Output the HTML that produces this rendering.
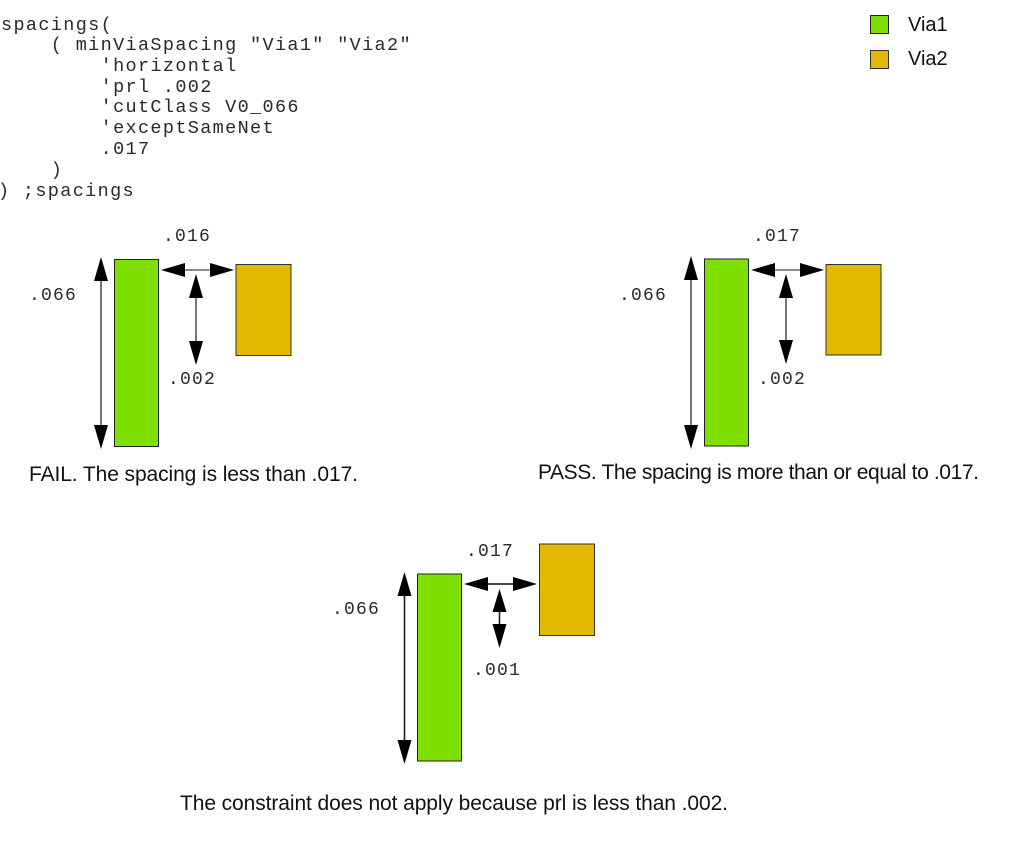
<!DOCTYPE html>
<html lang="en">
<head>
<meta charset="utf-8">
<title>spacings diagram</title>
<style>
html,body{margin:0;padding:0;background:#fff;width:1013px;height:858px;overflow:hidden}
svg{display:block}
.m{font-family:"Liberation Mono",monospace;font-size:18px;fill:#2a2a2a;letter-spacing:1.2px;white-space:pre}
.c{font-family:"Liberation Mono",monospace;font-size:18.5px;fill:#2a2a2a;letter-spacing:1.35px;white-space:pre}
.s{font-family:"Liberation Sans",sans-serif;font-size:21px;fill:#111}
.v{font-family:"Liberation Sans",sans-serif;font-size:20px;fill:#111}
.g{fill:#7fe000;stroke:#222;stroke-width:1}
.y{fill:#e2b900;stroke:#333;stroke-width:1}
.h{fill:#000}
</style>
</head>
<body>
<svg width="1013" height="858" viewBox="0 0 1013 858" xmlns="http://www.w3.org/2000/svg">
<rect width="1013" height="858" fill="#fff"/>

<text class="c" x="1" y="30">spacings(</text>
<text class="c" x="1" y="50">    ( minViaSpacing "Via1" "Via2"</text>
<text class="c" x="1" y="71">        'horizontal</text>
<text class="c" x="1" y="92">        'prl .002</text>
<text class="c" x="1" y="112">        'cutClass V0_066</text>
<text class="c" x="1" y="133">        'exceptSameNet</text>
<text class="c" x="1" y="154">        .017</text>
<text class="c" x="1" y="175">    )</text>
<text class="c" x="-2" y="196">) ;spacings</text>

<rect class="g" x="870.5" y="15.5" width="18" height="18"/>
<rect class="y" x="870.5" y="50.5" width="18" height="18"/>
<text class="v" x="908" y="31">Via1</text>
<text class="v" x="908" y="65">Via2</text>

<!-- FAIL -->
<rect class="g" x="114.5" y="259.5" width="44" height="187"/>
<rect class="y" x="236" y="264.5" width="55" height="91"/>
<line x1="101" y1="270" x2="101" y2="436" stroke="#777" stroke-width="2"/>
<polygon class="h" points="101,257 94,281 108,281"/>
<polygon class="h" points="101,449 94,425 108,425"/>
<line x1="180" y1="270" x2="215" y2="270" stroke="#666" stroke-width="1.6"/>
<polygon class="h" points="161,270 185,263 185,277"/>
<polygon class="h" points="234,270 210,263 210,277"/>
<line x1="196" y1="290" x2="196" y2="345" stroke="#777" stroke-width="2"/>
<polygon class="h" points="196,274 189,298 203,298"/>
<polygon class="h" points="196,365 189,341 203,341"/>
<text class="m" x="163" y="241">.016</text>
<text class="m" x="29" y="300">.066</text>
<text class="m" x="168" y="384">.002</text>
<text class="s" x="29" y="481" textLength="329" lengthAdjust="spacing">FAIL. The spacing is less than .017.</text>

<!-- PASS -->
<rect class="g" x="704.5" y="259" width="44" height="187"/>
<rect class="y" x="826" y="264.5" width="55" height="90.5"/>
<line x1="691" y1="270" x2="691" y2="436" stroke="#777" stroke-width="2"/>
<polygon class="h" points="691,256 684,280 698,280"/>
<polygon class="h" points="691,449 684,425 698,425"/>
<line x1="770" y1="270" x2="805" y2="270" stroke="#666" stroke-width="1.6"/>
<polygon class="h" points="751,270 775,263 775,277"/>
<polygon class="h" points="824,270 800,263 800,277"/>
<line x1="786" y1="290" x2="786" y2="345" stroke="#777" stroke-width="2"/>
<polygon class="h" points="786,274 779,298 793,298"/>
<polygon class="h" points="786,364 779,340 793,340"/>
<text class="m" x="753" y="241">.017</text>
<text class="m" x="619" y="300">.066</text>
<text class="m" x="758" y="384">.002</text>
<text class="s" x="538" y="479" textLength="441" lengthAdjust="spacing">PASS. The spacing is more than or equal to .017.</text>

<!-- THIRD -->
<rect class="g" x="417.5" y="574" width="44" height="187"/>
<rect class="y" x="539.5" y="544" width="55" height="91.5"/>
<line x1="404.5" y1="585" x2="404.5" y2="750" stroke="#111" stroke-width="1.5"/>
<polygon class="h" points="404.5,572 397.5,596 411.5,596"/>
<polygon class="h" points="404.5,764 397.5,740 411.5,740"/>
<line x1="483" y1="584" x2="518" y2="584" stroke="#111" stroke-width="1.5"/>
<polygon class="h" points="464,584 488,577 488,591"/>
<polygon class="h" points="537,584 513,577 513,591"/>
<line x1="499.5" y1="605" x2="499.5" y2="630" stroke="#111" stroke-width="1.5"/>
<polygon class="h" points="499.5,589 492.5,612 506.5,612"/>
<polygon class="h" points="499.5,648 492.5,624 506.5,624"/>
<text class="m" x="466" y="556">.017</text>
<text class="m" x="332" y="614">.066</text>
<text class="m" x="473" y="675">.001</text>
<text class="s" x="180" y="810" textLength="548" lengthAdjust="spacing">The constraint does not apply because prl is less than .002.</text>
</svg>
</body>
</html>
